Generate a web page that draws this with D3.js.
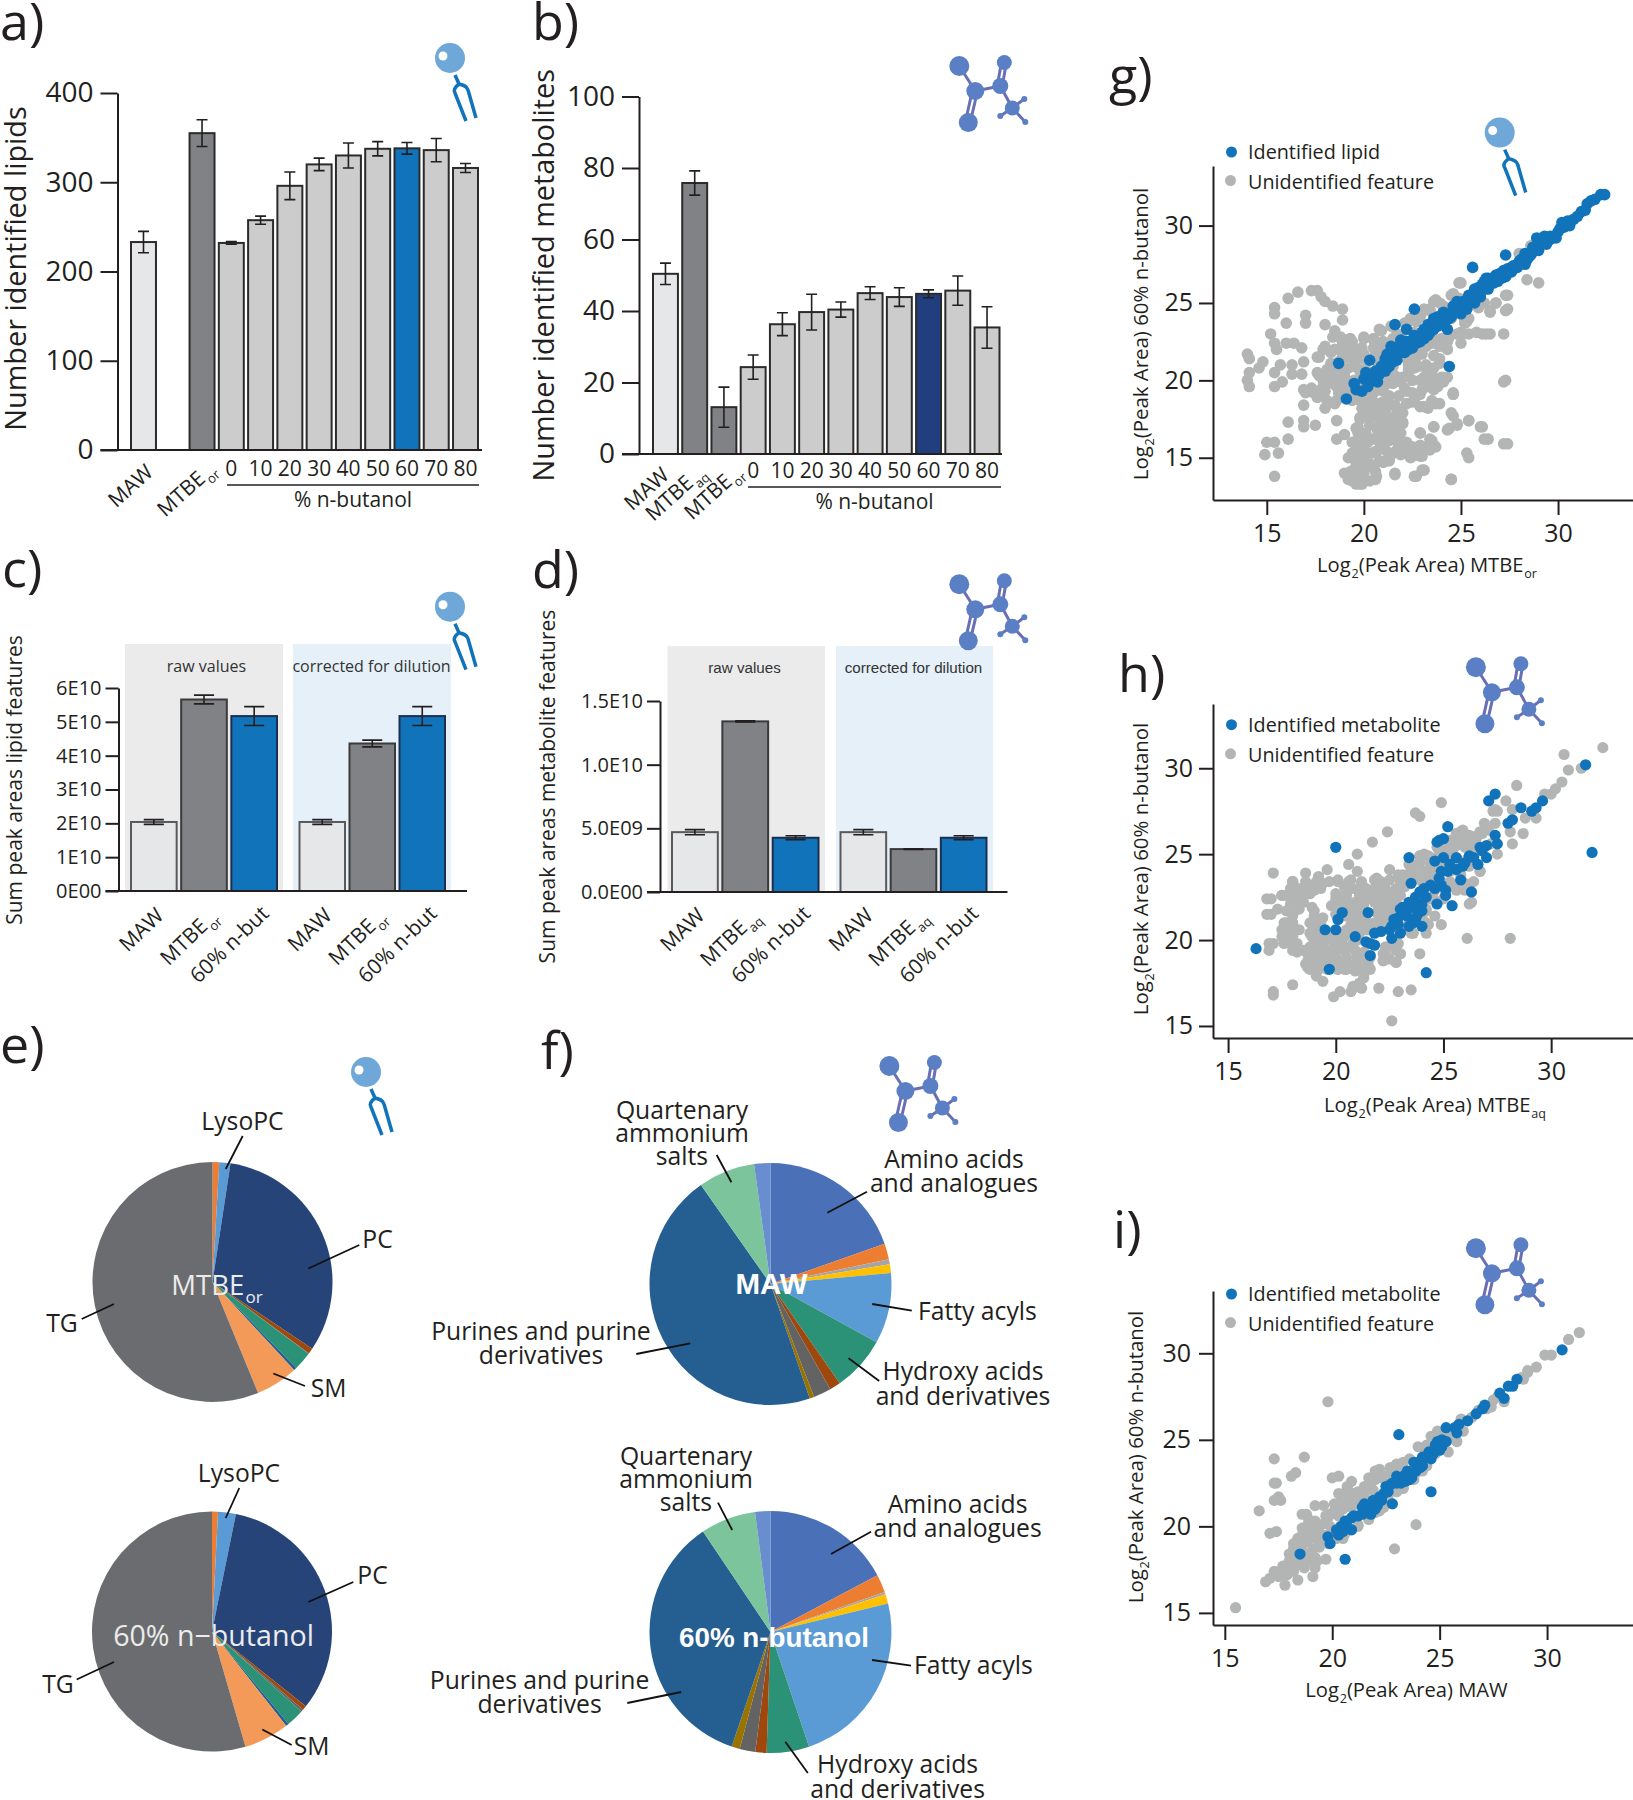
<!DOCTYPE html>
<html>
<head>
<meta charset="utf-8">
<script src="https://cdn.jsdelivr.net/npm/d3@7"></script>
<style>
  html, body { margin: 0; padding: 0; background: #fff; }
  text { font-family: 'Open Sans', sans-serif; fill: #231f20; }
</style>
</head>
<body>
<script>
// ---- panel a / b : identified counts ----
const lipidIds = ['MAW', 'gap', 'MTBE_{or}', '0', '10', '20', '30', '40', '50', '60', '70', '80'];
const lipidCounts = [233, null, 355, 232, 257.5, 296, 320, 330, 337.5, 338, 336, 316];
const lipidErrors = [12, null, 15, 1.5, 4.5, 15.5, 7, 14, 8, 6.5, 13, 5];
const metaboliteIds = ['MAW', 'MTBE_{aq}', 'MTBE_{or}', '0', '10', '20', '30', '40', '50', '60', '70', '80'];
const metaboliteCounts = [50.4, 75.8, 13.1, 24.3, 36.3, 39.7, 40.4, 45, 43.9, 44.8, 45.7, 35.4];
const metaboliteErrors = [3, 3.4, 5.6, 3.4, 3.2, 5, 2.1, 1.8, 2.6, 1.1, 4.1, 5.8];

// ---- panel c / d : summed peak areas ----
const lipidAreaIds = ['MAW', 'MTBE_{or}', '60% n-but'];
const lipidAreaRaw = [2.04e10, 5.66e10, 5.17e10];
const lipidAreaRawErr = [0.07e10, 0.13e10, 0.28e10];
const lipidAreaCorrected = [2.04e10, 4.36e10, 5.17e10];
const lipidAreaCorrectedErr = [0.07e10, 0.1e10, 0.28e10];
const metaboliteAreaIds = ['MAW', 'MTBE_{aq}', '60% n-but'];
const metaboliteAreaRaw = [4.7e9, 1.34e10, 4.26e9];
const metaboliteAreaRawErr = [2e8, 4e7, 1.6e8];
const metaboliteAreaCorrected = [4.7e9, 3.37e9, 4.26e9];
const metaboliteAreaCorrectedErr = [2e8, 2e7, 1.6e8];

// ---- panel e / f : class composition, clockwise from 12 o'clock ----
const lipidSliceColors = ['#ed7d31', '#5b9bd5', '#264478', '#9e480e', '#636363', '#2b9278', '#255e91', '#f39a59', '#6b6c70'];
const lipidShareMtbe = [0.9, 1.5, 32, 0.75, 0.05, 2.5, 0.4, 5.7, 56.2];
const lipidShareButanol = [0.8, 2.4, 32.5, 0.6, 0.3, 2.4, 0.4, 6.1, 54.5];
const metaboliteSliceColors = ['#4a71b8', '#ed7d31', '#a5a5a5', '#ffc000', '#5b9bd5', '#2b9278', '#9e480e', '#636363', '#997300', '#255e91', '#7cc49b', '#698ed0'];
const metaboliteShareMaw = [19.6, 2.11, 0.67, 1.17, 9.44, 7.31, 1.47, 2.36, 0.61, 45.5, 7.58, 2.17];
const metaboliteShareButanol = [17.3, 2.4, 0.33, 1.25, 23.7, 5.7, 1.5, 2.1, 1.1, 35.5, 7.4, 2.05];

// ---- panel g : 60% n-butanol vs MTBE organic ----
const gIdentified = [[18.7, 21.1], [19.1, 18.8], [20.3, 21.3], [21.6, 23.6], [22.6, 24.6], [25.6, 27.3], [24.4, 20.9], [27.3, 28.1], [22.2, 23.3], [24.3, 23.3],
  [19.5, 19.8], [19.6, 19.4], [19.9, 19.3], [20, 20.1], [20.2, 20.2], [20.5, 20.1], [20.7, 19.9], [20.6, 20.6], [20.9, 20.9], [21.2, 20.8], [21.1, 21.4], [21.5, 21.2], [21.7, 21.6], [21.6, 22], [21.9, 21.8], [22, 22.2], [22.3, 22], [22.4, 22.5], [22.7, 22.4], [22.8, 22.8], [23.1, 22.7], [23.1, 23.3], [23.4, 23.1], [23.5, 23.6], [23.8, 23.5], [23.8, 24.1], [24.1, 23.9], [24.3, 24.3], [24.5, 24.1], [24.7, 24.5], [25, 24.3], [25, 24.8], [24.8, 25.1], [25.3, 24.9], [25.5, 25.2], [25.7, 25], [25.8, 25.6], [26, 25.4], [25.9, 26], [26.2, 25.9], [26.2, 26.4], [26.5, 26.2], [26.6, 26.6], [26.9, 26.4], [27, 26.9], [27.3, 26.7], [27.4, 27.2], [27.6, 27], [27.7, 27.4], [28, 27.7], [28.2, 27.9], [28.3, 27.5], [28.5, 28], [28.7, 28.3], [28.9, 28.6], [28.9, 29.2], [29.2, 28.9], [29.3, 29.3], [29.6, 29.1], [29.8, 29.3], [30, 29.6], [30.3, 29.9], [30.2, 30.2], [30.5, 30.3], [30.8, 30.4], [31, 30.6], [31.2, 30.9], [31.4, 31], [31.5, 31.4], [31.7, 31.6], [31.9, 31.7], [32.2, 32], [32.4, 32],
  [20.1, 20.5], [20.3, 19.9], [20.8, 20.4], [21, 21], [21.3, 20.9], [21.4, 21.7], [21.7, 21.3], [21.8, 22.2], [22.1, 21.8], [22.2, 22.5], [22.5, 22.1], [22.6, 22.9], [22.9, 22.5], [23, 23.1], [23.3, 22.9], [23.3, 23.6], [23.6, 23.3], [23.6, 24], [24, 23.7], [24.1, 24.4], [24.4, 24], [24.6, 24.8], [24.8, 24.4], [25.1, 25.1], [25.3, 24.6], [25.4, 25.5], [25.6, 25.3], [25.7, 25.9], [26, 25.7], [26.1, 26.2], [26.4, 25.9], [26.4, 26.6], [26.7, 26.3], [26.8, 26.8], [27.1, 26.6], [27.2, 27.1], [27.5, 27], [27.6, 27.3], [27.9, 27.3], [28.1, 27.8], [28.4, 27.8], [28.3, 28.2], [28.6, 28.1], [28.7, 28.6], [29, 28.4], [29.1, 29], [29.4, 28.8], [29.6, 29.3], [29.9, 29.2], [30.1, 29.8], [30.4, 30.1], [30.6, 30],
  [21.4, 22.2], [21.2, 21.7], [21.9, 22.6], [21.1, 20.6], [20.2, 19.6], [26.3, 26.6], [25.9, 25.4]];
const gUnidentified = [[16.6, 25.7], [16.1, 25.3], [15.4, 24.7], [15.4, 24.3], [16, 23.7], [17.3, 25.8], [17.6, 25.8], [17.8, 25.4], [18, 25.1], [18.4, 24.8], [18.9, 24.6], [17, 24.2], [17, 23.7], [18, 23.6], [18.9, 23.9], [18.5, 23.2], [18.8, 22.8], [19.1, 22.6], [15.2, 23], [15.4, 22.4], [15.5, 22], [16, 22.4], [16.4, 22.4], [16.8, 22.1],
  [14, 21.7], [14.1, 21.4], [14.8, 21.2], [14.6, 20.8], [14.1, 20.5], [14, 20], [14.1, 19.6], [15.4, 20.5], [15.7, 21], [16.3, 21], [16.9, 21.2], [17.6, 21.5], [18, 22.2], [18.3, 21.8], [15.4, 19.6], [15.8, 19.9], [16.3, 20.4], [16.8, 20.4], [16.9, 19.4], [16.9, 18.4], [17.6, 18.9], [18, 18.2],
  [17.6, 20.5], [17.9, 20.2], [18.2, 20.6], [18.5, 21], [18.3, 20], [18.7, 19.7], [19, 20.3], [19.2, 20.8], [19.5, 21.3], [18.9, 21.5], [19.3, 22], [19.7, 21.8], [20, 21.4], [19.8, 20.6], [19.5, 20], [19.2, 19.4], [18.7, 19.2], [17.3, 19.5], [17.6, 19.3], [18.1, 18.7], [18.5, 18.5], [19.4, 18.7], [19.9, 18.2], [20.2, 18.8], [20, 19.5], [20.4, 19.3],
  [16.1, 17.3], [16.9, 17.4], [16.9, 17], [17.5, 17.1], [18.6, 17.4], [19, 16.5], [18.6, 16.2], [15, 16], [15.4, 16], [16.1, 16.2], [15.6, 15.3], [14.9, 15.2], [15.4, 13.8],
  [19.3, 14.1], [19.6, 13.3], [19.9, 13.3], [20.3, 13.5], [20.6, 13.6], [19.2, 13.6], [19.5, 13.8], [19.7, 14.4], [20.1, 14.5], [19.6, 14.9], [20, 15.1], [20.4, 15.3], [20.8, 14.8], [21.1, 14.8], [21.6, 13.9], [22.7, 13.8], [23.1, 14.2], [22.4, 15], [23, 15.1], [22.7, 15.4], [22.3, 15.3], [21.8, 15.8], [21.5, 15.3], [21.1, 15.5], [20.8, 16], [20.4, 16.2], [20.1, 16.4], [19.7, 16.6], [19.5, 16], [20.3, 17.1], [20.7, 16.8], [21, 16.9], [21.5, 17.1], [21.8, 16.4], [22.2, 16], [22.9, 15.8], [22.9, 16.6], [21.7, 17.8], [21.1, 18], [21.3, 18.4], [20.7, 18.4], [22, 17.3], [21.7, 18.2], [20.4, 17.8], [19.8, 17.5], [19.6, 16.9], [19.9, 15.8], [20.3, 14.6], [20.6, 14.1], [21.1, 16.4], [21.5, 16.2], [20, 15.6], [20.6, 15.4], [21.3, 14.9], [21.9, 15.2], [20.2, 16], [19.7, 15.6], [19.4, 15.3], [19.2, 15], [23.2, 15.7], [23.4, 15.5], [20.9, 17.4], [20.1, 18], [21.3, 17.5], [21.4, 16.7],
  [22.2, 19.3], [22.6, 18.8], [22.9, 18.3], [23.3, 18.2], [23.7, 18.5], [23.5, 18.7], [23.9, 18.5], [22.9, 19.1], [23.3, 19.6], [23.8, 19.6], [24.6, 19.1], [23.1, 20.2], [23.5, 20.4], [24, 20.2], [23.9, 21.1], [23.2, 21], [22.6, 20.8], [22.3, 20.5], [21.9, 19.9], [21.6, 20.3], [21.2, 19.8], [20.7, 19.4], [20.4, 18.8], [19.8, 18.7], [19.2, 19], [18.6, 18.7], [18, 19.3],
  [20, 22.8], [20.5, 22.7], [20.9, 23.2], [21.4, 23.5], [22.4, 24], [23.1, 24.6], [23.7, 25.2], [24.5, 25.5], [25, 26.3], [26, 24.9], [25.4, 24], [25.3, 23.8], [25, 22.9], [24, 22.7], [24.3, 22.5], [23.3, 22.3], [22.8, 21.9], [22.3, 21.6], [21.7, 21.8], [21.2, 22.3], [19.3, 22.7], [19.4, 22.5], [18.9, 22], [19.4, 22], [19.9, 21.5], [18.7, 21.2], [18.4, 20.7], [17.8, 20.3], [18, 19.9], [18.7, 20.1], [19.2, 19.9], [19.8, 20.7], [20, 21.7], [20.5, 22.1], [21, 22.5], [18.9, 21.8], [18.5, 22], [18.9, 22.5],
  [26.1, 23], [26.5, 23], [27.2, 23], [26.5, 24.5], [26.8, 25], [27.4, 24.6], [27.4, 25.5], [28.4, 26.5], [29, 26.3], [27.3, 20], [24.6, 19.1], [24.6, 17.7], [24.8, 17.1], [24.4, 16.9], [25.4, 17.4], [26.1, 17], [26.4, 16.2], [27.4, 15.9], [25.4, 15], [24.5, 13.6], [23.6, 15.8], [23.4, 16.2], [23.6, 17], [24.5, 24], [25.3, 24.7], [26.2, 25], [28, 28.2], [28.6, 28.7], [23.4, 24.6], [24.1, 24.8], [24.9, 25.3], [22.6, 23.1], [22.1, 23.7], [21.5, 22.7], [21.9, 22.9], [22.7, 23.8], [23.5, 22.8], [22.3, 21], [21, 21], [20.8, 20.5], [20.3, 20.3], [21.5, 20.9],
  [19.8, 13.8], [19.45, 14.2], [20.1, 14.4], [19.6, 14.7], [20.65, 13.8], [21, 14.7], [20, 15.3], [20.65, 15.4], [21.3, 15.3], [19.4, 16], [20, 16.1], [20.65, 16.2], [21.3, 16.1], [22, 15.9], [22.5, 15.7], [22.9, 15.1], [22.4, 15.2], [19.7, 17], [20.3, 17.5], [20.8, 17.1], [21.5, 17], [22, 17.2], [20.1, 17.9], [20.65, 18.1], [21.2, 17.6], [21.7, 17.9], [21.6, 18.4], [21, 18.6], [22.2, 18.5], [22.5, 19.2], [23.1, 18.3], [22.1, 19.5], [23, 19.4], [23.6, 19.4], [23.7, 20], [23.2, 20.2], [24.1, 19.9], [22.5, 20], [22, 20.2], [21.5, 19.8], [21, 19.3], [20.5, 19.2], [20, 18.8], [19.5, 18.9],
  [18.9, 20], [18.4, 19.8], [17.9, 19.6], [17.4, 19.2], [17, 19.2], [17.7, 20.3], [18.3, 20.4], [18.9, 20.7], [19.5, 20.9], [19.8, 21.7], [19.4, 22.2], [18.9, 22.5], [18.4, 22.8], [17.9, 22], [17.7, 21.5], [18.3, 21.1], [19.1, 21.5], [20.7, 21.2], [20.1, 20.7], [20, 22.7], [20.5, 22.6], [20.8, 23.3], [20.8, 22.3], [21.5, 22.6], [22.5, 23.9], [23, 24.4], [23.6, 25.1], [24.1, 24.5], [24.9, 26.3], [25, 23.1], [25.2, 23.7], [25.4, 23], [25.8, 23.1], [26.3, 23], [25.9, 24.7], [26.5, 24.4], [26.8, 25], [27.3, 24.5], [27.3, 25.5], [25, 22.4], [23.9, 22.2], [24.3, 22], [23.9, 21.4], [23, 21.7], [23.2, 20.8], [23.6, 20.8], [24.3, 20.2], [24.6, 19.2], [27.2, 19.9], [24.5, 17.9], [24.8, 17.2], [24.3, 16.8], [23.6, 17], [25.4, 17.4], [26, 17], [26.2, 16.2], [27.2, 15.9], [25.3, 15.3], [24.5, 13.6], [21.6, 14], [22.6, 13.8], [23, 14.2], [22.9, 16.6], [23.5, 16.1], [23.7, 15.7],
  [17.9, 20], [18.6, 19.6], [19.1, 19.4], [18.1, 20.7], [18.6, 20.9], [20, 19.8], [20.1, 19.4], [19.6, 21.3], [19.9, 22.1], [19.5, 21.6], [20.6, 21.7], [21, 22], [21.3, 20.9], [21, 20.2], [21.5, 20.2], [22.3, 20.7], [22.8, 20.9], [22.7, 21.5], [22.2, 21.4], [23.2, 22.2], [23.6, 21.6], [22.9, 20], [21.8, 19], [22.5, 18.6], [21.3, 19], [20.8, 18.5], [20.3, 18.3], [19.8, 17.6], [20.8, 17.6], [21.6, 17.4], [22, 17.9], [20.1, 16.6], [21.3, 16.6], [21.9, 16.6], [21, 15.7], [19.6, 15.5], [21.7, 15.5], [22.2, 15.5], [20.5, 14.4], [20, 14], [19.4, 13.5], [19.8, 13.3], [19, 14], [21.3, 14.8], [22.5, 15.1], [21.7, 23], [22.2, 23.7], [22.9, 24.1], [23.4, 24.5], [23.9, 25], [24.6, 25.6], [25.2, 23.9], [24.8, 23], [24.4, 22.8], [23.6, 22.4]];

// ---- panel h : 60% n-butanol vs MTBE aqueous ----
const hIdentified = [[16.3, 19.5], [20, 25.4], [19.7, 18.3], [24.2, 18.1], [23.4, 24.8], [25.2, 26.6], [31.9, 25.1], [31.6, 30.2], [27.4, 28.5], [27.1, 28.1], [28.6, 27.7], [29.6, 28.1], [29.3, 27.7], [29.1, 27.5], [28.2, 27], [28, 26.8], [27.4, 26.1], [27.5, 25.6], [27, 25.5], [26.7, 25.4], [27, 24.8], [26.4, 24.8], [26, 24.5], [25.6, 24.8], [25, 24.8], [24.6, 24.6], [24.8, 25.8], [24.7, 25.7], [25, 25.9], [26.6, 24.4], [25.6, 24.1], [25.2, 24], [24.8, 23.6], [25.8, 23.5], [26.3, 22.8], [24.6, 23], [25.1, 22.9], [25.1, 22.6], [24.7, 22.1], [25.4, 22], [24.1, 23], [24.2, 22.5], [23.5, 23.3], [23.7, 22.5], [23.4, 22.2], [23.7, 22], [23.3, 21.8], [23, 21.8], [23.8, 21.5], [23.3, 21.4], [22.9, 21.3], [22.7, 21.2], [24, 20.8], [22.6, 20.8], [23, 20.4], [22.5, 20.6], [22.6, 20.1], [22.1, 20.5], [21.8, 20.4], [21.5, 21.6], [20.9, 20.2], [21.4, 19.9], [21.6, 19.8], [21.8, 19.7], [21.6, 19.1], [19.5, 20.6], [20, 20.6], [20.1, 21.2], [20.3, 21.6], [23.1, 21.9], [23.5, 21.9], [24, 21.7], [22.9, 20.9], [23.7, 21.2],
  [24.9, 24], [25.3, 24.4], [25.9, 24.3], [24.9, 23.2], [24.4, 23.2], [24, 22.1], [23.6, 21], [23.4, 20.8], [23.9, 22.8], [26.2, 24.9], [26.8, 25.2]];
const hUnidentified = [[32.4, 31.2], [30.6, 30.8], [30.8, 29.9], [31.4, 30], [30.5, 29.2], [30.2, 28.8], [30, 28.5], [29.7, 28.5], [28.4, 29], [27.9, 28.1], [24.9, 28], [23.7, 27.4], [23.9, 27.2], [22.4, 26.3], [21.7, 25.7], [21, 25], [20.6, 24.4], [19.6, 24.1], [21, 24], [22.5, 24.1], [19.2, 23.7], [18.6, 23.9], [17.1, 23.9], [18, 23.4], [17.5, 22.6], [16.8, 22.4], [17, 22.4], [17.3, 21.8], [17, 21.5], [16.8, 21.5], [16.9, 19.8], [17.1, 19.8], [16.9, 19.4], [18, 17.4], [19.1, 17.9], [19.4, 17.6], [17.1, 17], [17.1, 16.8], [19.9, 16.7], [20.2, 17], [20.7, 17], [20.8, 17.3], [21.2, 17.2], [21.3, 17.8], [21.6, 18.3], [22, 17.2], [22.9, 17], [23.5, 17.1], [22.6, 15.3], [23.9, 19.2], [22.2, 18.8], [22.8, 18.7], [23, 19.2], [24.9, 20.9], [26.1, 20.1], [28.1, 20.1], [26.3, 22.2], [26.7, 24], [28.2, 25.6], [28.7, 26.2], [28.1, 26.3], [27.5, 25], [28.8, 27.1], [29.3, 27.1], [28.2, 27.6], [27.4, 27.6], [27.5, 27.5], [27.3, 27.5], [26.9, 26.8], [27.4, 26.8], [25.8, 26.3], [25.9, 26.3],
  [18, 23.4], [18.6, 23.4], [19.1, 23.4], [19.7, 23.4], [20.1, 23.4], [20.6, 23.4], [21.2, 23.4], [21.8, 23.5], [22.1, 23.4], [17.9, 23], [18.3, 23], [18.8, 23], [19.3, 23], [20.4, 23.1], [20.8, 23], [21.4, 23], [21.9, 23], [22.3, 23], [22.8, 23], [23.2, 23.1], [23.6, 23.7], [17.5, 22.6], [18, 22.6], [18.4, 22.7], [18.8, 22.7], [20.5, 22.6], [21.1, 22.6], [21.6, 22.6], [22, 22.6], [22.5, 22.6], [23, 22.6], [18.1, 22.2], [18.5, 22.2], [19, 22.9], [20.4, 22.2], [20.9, 22.2], [21.3, 22.2], [21.8, 22.2], [22.3, 22.2], [22.8, 22.2], [18.3, 21.8], [18.9, 21.9], [20, 22.4], [19.8, 22], [20.6, 21.9], [21, 21.8], [21.4, 21.2], [22, 21.8], [22.6, 21.8], [18, 21.4], [19, 21.4], [19.4, 21.3], [20.6, 21.4], [21.1, 21.4], [22.2, 21.4], [22.7, 21.6], [17.6, 21], [18, 21], [18.9, 21], [19.3, 21], [20.8, 21], [21.3, 21], [21.8, 21], [22.3, 21], [17.5, 20.6], [17.9, 20.6], [18.3, 20.6], [19, 20.6], [20.5, 20.6], [21, 20.6], [21.5, 20.6], [17.5, 20.2], [17.9, 20.2], [18.9, 20.2], [19.3, 20.2], [19.7, 20.2], [20.3, 20.2], [21.2, 20.7], [17.6, 19.8], [18, 19.8], [19, 19.8], [19.4, 19.8], [19.9, 19.8], [20.3, 19.8], [20.8, 19.8], [22.3, 19.6], [22.9, 19.8], [18, 19.4], [18.2, 19.3], [19.1, 19.4], [19.5, 19.4], [19.9, 19.4], [20.4, 19.4], [20.9, 19.4], [21.3, 19.3], [22.3, 19.2], [22.8, 19.4], [18.8, 19], [19.2, 19], [19.6, 19], [20, 19], [20.5, 19], [21, 19], [21.4, 19], [22.5, 18.9], [18.6, 18.6], [19, 18.6], [19.4, 18.6], [19.8, 18.6], [20.2, 18.6], [20.6, 18.6], [21, 18.6], [21.5, 18.6], [18.8, 18.3], [19.2, 18.3], [19.6, 18.3], [20.1, 18.3], [20.5, 18.3], [20.9, 18.2], [21.3, 18.2],
  [23.4, 24.4], [23.8, 24.4], [24.4, 24.4], [24.9, 24.3], [23.9, 24.9], [24.3, 24.9], [24.8, 25], [25.3, 25.1], [24.7, 25.4], [25.1, 25.4], [25.5, 25.4], [26, 25.4], [25.3, 25.8], [25.7, 25.8], [26.1, 25.8], [26.5, 25.8], [25.6, 26.2], [26.2, 26.1], [26.6, 26.1], [22.9, 23.8], [23.3, 23.8], [23.7, 23.8], [24.2, 23.8], [24.7, 23.8], [25.3, 23.4], [25.8, 23.8], [23, 23.4], [23.4, 23.4], [24, 23.4], [24.5, 23.4], [25, 23.3], [25.5, 23.2], [26, 23.3], [26.4, 23.4], [24.6, 22.9], [25, 22.4], [25.6, 22.9], [26, 22.9], [24.4, 22.4], [24.2, 21.8], [24.6, 21.4], [24.3, 20.9], [24, 21.3], [23.4, 21], [23.1, 20.6], [23.6, 20.4], [22.7, 19.8], [24.2, 20.4], [26.6, 25.2], [27.2, 25.6], [26.7, 26.3], [27.1, 26.4],
  [18, 23.4], [18.7, 23.2], [19.4, 23.3], [20.1, 23.5], [20.7, 23.5], [21.2, 23.3], [21.9, 23.6], [22.5, 23.5], [23.1, 23.8], [18, 22.7], [18.5, 22.8], [20, 22.7], [20.5, 22.8], [21.1, 22.7], [21.8, 22.9], [22.4, 22.8], [23, 23], [23.5, 24], [23.9, 24.5], [24.4, 24.8], [24.1, 24], [24.5, 24], [17.9, 22.1], [18.3, 22.1], [20.1, 22.1], [20.7, 22.1], [21.3, 22.1], [21.9, 22.3], [22.5, 22.3], [18, 21.5], [19, 21.7], [20, 21.5], [20.6, 21.5], [21.1, 21.4], [21.9, 21.6], [22.4, 21.7], [17.7, 21], [18, 20.9], [19, 21], [20.7, 20.9], [21.1, 20.9], [21.9, 21], [17.6, 20.3], [18, 20.2], [18.8, 20.4], [19.3, 20], [19.9, 20], [20.4, 20.2], [21.1, 20.4], [17.9, 19.8], [18.5, 19.4], [18.8, 19.6], [19.6, 19.4], [20.2, 19.5], [20.7, 19.6], [21.1, 19.2], [18.1, 19.4], [18.7, 18.8], [19.1, 19], [19.7, 18.9], [20.4, 18.8], [21, 18.8], [18.7, 18.4], [19.4, 18.5], [20.4, 18.3], [20.9, 18.3], [21.4, 18.4], [21.3, 18], [21.1, 17.5], [20.8, 17.2], [22.2, 18.8], [22.8, 18.7], [23, 19.2], [22.7, 19.6], [22.2, 19.2], [24.2, 21], [23.5, 20.4], [24.2, 21.7], [24.5, 22.5], [25.2, 24.9], [25.8, 26.2], [26, 25.8], [26.4, 26], [26.8, 26.2], [25.6, 25.5], [26.4, 25.4], [26.7, 24], [25.8, 24.3], [26.2, 24.3], [26.2, 23.2], [26.2, 22.1], [23.9, 24.9],
  [17.65, 22.6], [18.2, 22.9], [17.7, 21.7], [17.6, 20.6], [17.8, 20.4], [18.2, 19.8], [18.7, 19.2], [19.1, 19.4], [19.1, 18.6], [19.8, 18.8], [20.7, 18.4], [20.2, 22.3], [20.4, 21.4], [20.9, 21.5], [21.4, 22.5], [21.8, 23], [23, 23.5], [22.4, 21.4], [22.1, 20.8], [21.4, 20.6], [20.5, 20.5], [19.8, 20.4], [18.8, 21], [21, 20], [20.4, 19.6], [19.4, 19.4], [20.1, 18.3], [21.6, 19], [24.1, 25], [24.4, 24.5], [25.3, 24], [26.1, 24.7], [26.7, 25.2], [25.6, 26.2], [25.9, 26.4]];

// ---- panel i : 60% n-butanol vs MAW ----
const iIdentified = [[30.7, 30.2], [28.6, 28.5], [28.4, 28.1], [28.2, 28.1], [28, 27.4], [27.8, 27.7], [27.1, 27], [27, 26.8], [26.7, 26.5], [26.3, 26.1], [25.9, 25.9], [25.7, 25.7], [25.3, 25.7], [25.8, 25.4], [25.3, 24.9], [25.1, 25], [24.8, 24.7], [25, 24.4], [24.6, 23.9], [24.2, 24], [24, 23.7], [23.8, 23.7], [24.1, 23.4], [23.7, 22.8], [23.5, 23.2], [23.3, 22.9], [23, 22.9], [23.4, 22.6], [23, 22.5], [22.7, 22.4], [22.5, 22.3], [22.4, 21.9], [22.2, 21.7], [21.9, 21.5], [22.1, 21.2], [21.7, 21.2], [21.4, 21.1], [21.8, 20.7], [21.2, 20.6], [20.9, 20.5], [20.6, 20.3], [20.9, 19.8], [20.4, 20], [20.5, 19.7], [20.3, 19.5], [19.8, 19.4], [19.9, 19], [18.5, 18.4], [20.6, 18.1], [22.8, 21.3], [23.1, 25.3], [24.6, 22],
  [20.2, 19.8], [20.7, 20], [21, 20.6], [21.4, 20.7], [21.5, 21.3], [22, 21], [22.3, 21.5], [22.6, 22], [22.8, 22.5], [23.2, 22.5], [23.6, 22.7], [23.9, 23.2], [24.2, 23.5], [24.4, 24], [24.5, 24.3], [24.7, 24.2], [24.9, 24.9], [25.1, 24.6]];
const iUnidentified = [[15.5, 15.3], [16.6, 20.9], [17.3, 23.9], [18.7, 24], [19.8, 27.2], [18.3, 23.1], [18.1, 22.9], [17.4, 22.5], [17.3, 22.5], [17.5, 21.7], [17.3, 21.5], [17.6, 21.5], [17.1, 19.6], [17.4, 19.7], [18.6, 20.7], [18.8, 20.7], [19.2, 21.2], [19.6, 21.2], [20, 22.8], [20.3, 22.9], [20.7, 22.2], [20.9, 22.6], [20.7, 21.9], [23.9, 20.1], [22.9, 18.7], [19.1, 17.1], [16.9, 16.8], [17.3, 17.4], [17.8, 16.6], [18.4, 16.9], [31.5, 31.2], [31, 30.8], [30.2, 29.9], [29.9, 29.9], [29.5, 29.2], [29.1, 28.9], [28.9, 28.5],
  [17.1, 17], [17.5, 17.1], [17.9, 17.2], [18.2, 17.4], [17.7, 17.7], [18, 18], [18.4, 17.8], [18.7, 17.6], [18.3, 18.3], [18.6, 18.6], [18.9, 18], [18.2, 18.7], [18.5, 19], [18.8, 19.1], [19.1, 18.7], [18.4, 19.3], [18.8, 19.6], [19.2, 19.3], [19.4, 18.8], [18.6, 19.9], [19, 20.1], [19.3, 19.8], [19.6, 19.5], [18.9, 20.4], [19.5, 20.1], [19.8, 20.5], [20.1, 20.9], [20.3, 20.6], [20.6, 21.3], [20.9, 21.1], [20.8, 21.6], [21.2, 21.5], [21.6, 21.4], [21.9, 22.1], [22, 22.7], [22.2, 23.3], [21.7, 22.8], [22, 23.2], [22.5, 22.9], [22.7, 23.4], [23, 23.6], [23.3, 23.7], [23.6, 23.9], [22.8, 23.2], [23.3, 22.2], [23, 22], [22.6, 21.6], [22.2, 20.9], [21.7, 20.4], [21.2, 20.1], [20.6, 19.6], [19.9, 20], [20.2, 19.3], [24, 24.6], [24.4, 24.7], [24.6, 25.2], [24.9, 25.5], [25.4, 24.3], [25.8, 24.9], [26.1, 25.5], [26, 26.2], [26.5, 26.3], [26.8, 26.7], [27.2, 26.8], [27.5, 27.3], [27.7, 27.5], [23.9, 23.1], [24.4, 23.5], [24.8, 24.2], [29.1, 29], [28.8, 28.6], [19.7, 18.1], [19.3, 18], [19.2, 17.6], [20, 19.6], [21, 21.9], [22.4, 21.1], [21.5, 21.9], [20.4, 21.4], [20.1, 21.3],
  [17.7, 17.2], [18.1, 17.7], [18.5, 18], [18, 18.4], [18.4, 18.7], [18.7, 18.3], [19, 18.4], [19.2, 18.2], [18.2, 19], [18.6, 19.5], [19, 19.5], [18.8, 20], [19.2, 20.3], [19.5, 19.2], [19.7, 20.6], [19.9, 19.3], [19.8, 19], [20.5, 21], [20.9, 21.5], [21.2, 21.9], [21.5, 22.3], [21.8, 22.5], [20.5, 19.3], [21.2, 20], [22, 20.8], [22.3, 22.8], [22.6, 21.4], [23.3, 22.2], [23.8, 22.7], [24.2, 23.2], [23.2, 23.5], [24.3, 24.4], [25.4, 25], [25.3, 25.3], [27.4, 26.9], [28, 27.2], [20.3, 21.9], [20.7, 22.3], [21.2, 22], [20.9, 21.9], [19.9, 20.7]];

const svg = d3.select('body').append('svg')
  .attr('width', 1633)
  .attr('height', 1800);

// Text helper: "MTBE_{or}" puts the braces part in a subscript tspan.
function label(parent, content, x, y, size, extra = {}) {
  const node = parent.append('text')
    .attr('x', x)
    .attr('y', y)
    .attr('font-size', size)
    .attr('text-anchor', extra.anchor || 'start');
  if (extra.rotate !== undefined) {
    node.attr('transform', `rotate(${extra.rotate},${x},${y})`);
  }
  if (extra.fill) node.style('fill', extra.fill);
  if (extra.family) node.style('font-family', extra.family);
  if (extra.weight) node.attr('font-weight', extra.weight);
  let shift = 0;
  content.split(/_\{(.*?)\}/).forEach((part, idx) => {
    if (!part) return;
    const isSub = idx % 2 === 1;
    const down = isSub ? size * 0.3 : 0;
    node.append('tspan')
      .attr('dy', down - shift)
      .attr('dx', isSub ? size * 0.04 : 0)
      .attr('font-size', isSub ? size * 0.62 : size)
      .text(part);
    shift = down;
  });
  return node;
}

function leader(parent, from, to) {
  parent.append('line')
    .attr('x1', from[0]).attr('y1', from[1])
    .attr('x2', to[0]).attr('y2', to[1])
    .attr('stroke', '#111')
    .attr('stroke-width', 1.8);
}

function styleAxis(sel, size) {
  sel.selectAll('path, line').attr('stroke', '#231f20').attr('stroke-width', 2);
  sel.selectAll('text').attr('font-size', size).style('font-family', "'Open Sans', sans-serif").attr('fill', '#231f20');
}

function lipidIcon(cx, cy) {
  const g = svg.append('g').attr('transform', `translate(${cx},${cy})`);
  g.append('path')
    .attr('d', 'M5,17 L9,26 C5,29 3,32 5,35 L16,63 M9,26 C13,27 17,28 18,32 L26,60')
    .attr('fill', 'none')
    .attr('stroke', '#1174bb')
    .attr('stroke-width', 3.5);
  g.append('circle').attr('r', 15).attr('fill', '#6fa8d8');
  g.append('circle').attr('cx', -7).attr('cy', -2).attr('r', 4.5).attr('fill', '#fff');
}

function moleculeIcon(cx, cy) {
  const g = svg.append('g').attr('transform', `translate(${cx},${cy})`);
  const bonds = [[0, 0, 16, 25], [16, 25, 41, 20], [13, 25, 6, 56], [18, 26, 11, 56], [38, 20, 42, -3], [43, 20, 47, -3], [41, 20, 53, 42], [53, 42, 65, 33], [53, 42, 66, 56], [53, 42, 41, 50]];
  g.selectAll('line').data(bonds).join('line')
    .attr('x1', d => d[0]).attr('y1', d => d[1])
    .attr('x2', d => d[2]).attr('y2', d => d[3])
    .attr('stroke', '#6a6fb5')
    .attr('stroke-width', 3);
  const atoms = [[0, 0, 10], [16, 25, 9], [41, 20, 8], [45, -3.5, 7.5], [9, 56.5, 9.5], [53, 42, 7.5], [65, 33, 3], [66, 56, 3], [41, 50, 3]];
  g.selectAll('circle').data(atoms).join('circle')
    .attr('cx', d => d[0]).attr('cy', d => d[1]).attr('r', d => d[2])
    .attr('fill', '#5b7fc4');
}

function barSet(g, ids, values, errors, colors, x, y, strokes) {
  const rows = ids.map((id, i) => ({ id, value: values[i], err: errors[i], fill: colors[i], stroke: strokes[i] }))
    .filter(d => d.value !== null);
  g.selectAll(null).data(rows).join('rect')
    .attr('x', d => x(d.id))
    .attr('width', x.bandwidth())
    .attr('y', d => y(d.value))
    .attr('height', d => y(0) - y(d.value))
    .attr('fill', d => d.fill)
    .attr('stroke', d => d.stroke)
    .attr('stroke-width', 2);
  const cap = 0.22 * x.bandwidth();
  const err = g.selectAll(null).data(rows).join('path')
    .attr('fill', 'none')
    .attr('stroke', '#231f20')
    .attr('stroke-width', 1.6);
  err.attr('d', (d) => {
    const cx = x(d.id) + (x.bandwidth() / 2);
    const hi = y(d.value + d.err);
    const lo = y(d.value - d.err);
    return `M${cx - cap},${hi}H${cx + cap}M${cx},${hi}V${lo}M${cx - cap},${lo}H${cx + cap}`;
  });
}

// ---- a) and b) ----
const lightBar = '#e6e7e8';
const darkBar = '#808285';
const midBar = '#cccccc';
const blueBar = '#1174bb';
const navyBar = '#213f7f';
const darkStroke = '#2b2b2b';

function countPanel(cfg) {
  const g = svg.append('g');
  const y = d3.scaleLinear().domain([0, cfg.max]).range([cfg.y0, cfg.yTop]);
  const x = d3.scaleBand().domain(cfg.ids).range(cfg.xRange).paddingInner(0.147).paddingOuter(0);
  barSet(g, cfg.ids, cfg.values, cfg.errors, cfg.colors, x, y, cfg.ids.map(() => darkStroke));
  g.append('g')
    .attr('transform', `translate(${cfg.axisX},0)`)
    .call(d3.axisLeft(y).tickValues(cfg.ticks).tickSize(17).tickSizeOuter(0).tickPadding(7))
    .call(styleAxis, 28);
  g.append('line')
    .attr('x1', cfg.axisX - 17).attr('x2', cfg.xEnd)
    .attr('y1', cfg.y0).attr('y2', cfg.y0)
    .attr('stroke', '#231f20').attr('stroke-width', 2);
  label(g, cfg.title, cfg.titleX, (cfg.y0 + cfg.yTop) / 2 + cfg.titleDy, 28.8, { anchor: 'middle', rotate: -90 });
  cfg.ids.forEach((id) => {
    if (id === 'gap') return;
    const cx = x(id) + (x.bandwidth() / 2);
    if (/^\d+$/.test(id)) {
      label(g, id, cx, cfg.numberY, 21, { anchor: 'middle' });
    } else {
      const at = cfg.angled[id];
      label(g, id, cx + at[0], at[1], 21, { anchor: 'end', rotate: -42 });
    }
  });
  g.append('line')
    .attr('x1', cfg.ruleX[0]).attr('x2', cfg.ruleX[1])
    .attr('y1', cfg.numberY + 9).attr('y2', cfg.numberY + 9)
    .attr('stroke', '#58595b').attr('stroke-width', 2);
  label(g, '% n-butanol', (cfg.ruleX[0] + cfg.ruleX[1]) / 2, cfg.numberY + 31, 21, { anchor: 'middle' });
}

countPanel({
  ids: lipidIds,
  values: lipidCounts,
  errors: lipidErrors,
  colors: [lightBar, lightBar, darkBar, midBar, midBar, midBar, midBar, midBar, midBar, blueBar, midBar, midBar],
  max: 400,
  ticks: [0, 100, 200, 300, 400],
  y0: 450,
  yTop: 93,
  axisX: 117.5,
  xRange: [131, 478],
  xEnd: 482,
  title: 'Number identified lipids',
  titleX: 26,
  titleDy: -3,
  numberY: 476,
  ruleX: [227, 479],
  angled: { MAW: [11, 474], 'MTBE_{or}': [15, 471] },
});

countPanel({
  ids: metaboliteIds,
  values: metaboliteCounts,
  errors: metaboliteErrors,
  colors: [lightBar, darkBar, darkBar, midBar, midBar, midBar, midBar, midBar, midBar, navyBar, midBar, midBar],
  max: 100,
  ticks: [0, 20, 40, 60, 80, 100],
  y0: 454,
  yTop: 96.5,
  axisX: 639,
  xRange: [653, 999.5],
  xEnd: 1002,
  title: 'Number identified metabolites',
  titleX: 554,
  titleDy: 0,
  numberY: 478,
  ruleX: [748, 1001],
  angled: { MAW: [5, 477], 'MTBE_{aq}': [12, 474], 'MTBE_{or}': [20, 474] },
});

// ---- c) and d) ----
function areaPanel(cfg) {
  const g = svg.append('g');
  const y = d3.scaleLinear().domain([0, cfg.max]).range([cfg.y0, cfg.yTop]);
  g.append('rect').attr('x', cfg.bands[0][0]).attr('width', cfg.bands[0][1] - cfg.bands[0][0])
    .attr('y', cfg.bandTop).attr('height', cfg.y0 - cfg.bandTop).attr('fill', '#ebebec');
  g.append('rect').attr('x', cfg.bands[1][0]).attr('width', cfg.bands[1][1] - cfg.bands[1][0])
    .attr('y', cfg.bandTop).attr('height', cfg.y0 - cfg.bandTop).attr('fill', '#e6f0f8');
  const fills = [lightBar, darkBar, blueBar];
  const strokes = ['#58595b', '#3a3a3a', '#1c2f4f'];
  [[cfg.groups[0], cfg.raw, cfg.rawErr], [cfg.groups[1], cfg.corrected, cfg.correctedErr]].forEach(([range, vals, errs], k) => {
    const x = d3.scaleBand().domain(cfg.ids).range(range).paddingInner(0.09).paddingOuter(0);
    barSet(g, cfg.ids, vals, errs, fills, x, y, strokes);
    cfg.ids.forEach((id, i) => {
      label(g, id, x(id) + (x.bandwidth() / 2) + cfg.labelDx[i], cfg.labelY[i], 21, { anchor: 'end', rotate: -44 });
    });
    label(g, cfg.captions[k], cfg.captionX[k], cfg.captionY, cfg.captionSize, { anchor: 'middle', family: cfg.captionFamily, fill: '#333' });
  });
  g.append('g')
    .attr('transform', `translate(${cfg.axisX},0)`)
    .call(d3.axisLeft(y).tickValues(cfg.ticks).tickFormat((d, i) => cfg.tickLabels[i]).tickSize(13).tickSizeOuter(0).tickPadding(4))
    .call(styleAxis, 20);
  g.append('line')
    .attr('x1', cfg.axisX - 13).attr('x2', cfg.xEnd)
    .attr('y1', cfg.y0).attr('y2', cfg.y0)
    .attr('stroke', '#231f20').attr('stroke-width', 2);
  label(g, cfg.title, cfg.titleX, cfg.titleY, 21, { anchor: 'middle', rotate: -90 });
}

areaPanel({
  ids: lipidAreaIds,
  raw: lipidAreaRaw,
  rawErr: lipidAreaRawErr,
  corrected: lipidAreaCorrected,
  correctedErr: lipidAreaCorrectedErr,
  max: 6e10,
  ticks: [0, 1e10, 2e10, 3e10, 4e10, 5e10, 6e10],
  tickLabels: ['0E00', '1E10', '2E10', '3E10', '4E10', '5E10', '6E10'],
  y0: 891,
  yTop: 688,
  axisX: 118.5,
  xEnd: 467,
  bands: [[125, 283], [293, 451]],
  bandTop: 644,
  groups: [[131, 277], [299.5, 445]],
  captions: ['raw values', 'corrected for dilution'],
  captionX: [206.5, 371.5],
  captionY: 672,
  captionSize: 16,
  captionFamily: "'Open Sans', sans-serif",
  labelDx: [11, 15, 16],
  labelY: [917, 918, 915],
  title: 'Sum peak areas lipid features',
  titleX: 21.5,
  titleY: 780,
});

areaPanel({
  ids: metaboliteAreaIds,
  raw: metaboliteAreaRaw,
  rawErr: metaboliteAreaRawErr,
  corrected: metaboliteAreaCorrected,
  correctedErr: metaboliteAreaCorrectedErr,
  max: 1.5e10,
  ticks: [0, 5e9, 1e10, 1.5e10],
  tickLabels: ['0.0E00', '5.0E09', '1.0E10', '1.5E10'],
  y0: 892,
  yTop: 701,
  axisX: 660,
  xEnd: 1007.5,
  bands: [[667.5, 825], [836, 993]],
  bandTop: 646,
  groups: [[672, 818.5], [840.5, 986.5]],
  captions: ['raw values', 'corrected for dilution'],
  captionX: [744.5, 913.5],
  captionY: 672.5,
  captionSize: 15.2,
  captionFamily: "'Liberation Sans', sans-serif",
  labelDx: [11, 15, 16],
  labelY: [917, 918, 915],
  title: 'Sum peak areas metabolite features',
  titleX: 555,
  titleY: 786.5,
});

// ---- e) and f) ----
function piePanel(values, colors, cx, cy, r) {
  const arc = d3.arc().innerRadius(0).outerRadius(r);
  const arcs = d3.pie().sort(null)(values);
  svg.append('g').attr('transform', `translate(${cx},${cy})`)
    .selectAll('path').data(arcs).join('path')
    .attr('d', arc)
    .attr('fill', (d, i) => colors[i]);
}

piePanel(lipidShareMtbe, lipidSliceColors, 212.5, 1282, 120);
piePanel(lipidShareButanol, lipidSliceColors, 212, 1631.5, 120);
piePanel(metaboliteShareMaw, metaboliteSliceColors, 770.5, 1284, 121);
piePanel(metaboliteShareButanol, metaboliteSliceColors, 770.5, 1632, 121);

const centerFill = '#ececec';
label(svg, 'MTBE_{or}', 217, 1295, 27.5, { anchor: 'middle', fill: centerFill });
label(svg, '60% n\u2212butanol', 213.5, 1646, 28.6, { anchor: 'middle', fill: centerFill });
label(svg, 'MAW', 771.5, 1294, 29.5, { anchor: 'middle', fill: '#fff', family: "'Liberation Sans', sans-serif", weight: 700 });
label(svg, '60% n-butanol', 774, 1647, 27.8, { anchor: 'middle', fill: '#fff', family: "'Liberation Sans', sans-serif", weight: 700 });

const calloutSize = 24.7;
label(svg, 'LysoPC', 242.5, 1130, calloutSize, { anchor: 'middle' });
leader(svg, [242.7, 1136], [225.7, 1169]);
label(svg, 'PC', 377.5, 1248, calloutSize, { anchor: 'middle' });
leader(svg, [359.3, 1245], [308.3, 1268.5]);
label(svg, 'TG', 62, 1332, calloutSize, { anchor: 'middle' });
leader(svg, [81.7, 1319], [114, 1304]);
label(svg, 'SM', 328.5, 1396.5, calloutSize, { anchor: 'middle' });
leader(svg, [305, 1386], [273.3, 1373.5]);

label(svg, 'LysoPC', 239, 1482, calloutSize, { anchor: 'middle' });
leader(svg, [239.3, 1488], [225.7, 1518]);
label(svg, 'PC', 372.5, 1584, calloutSize, { anchor: 'middle' });
leader(svg, [353.3, 1582], [308.3, 1602]);
label(svg, 'TG', 58, 1692.5, calloutSize, { anchor: 'middle' });
leader(svg, [76.7, 1679.5], [114, 1662]);
label(svg, 'SM', 311.5, 1755, calloutSize, { anchor: 'middle' });
leader(svg, [291.7, 1745], [262.3, 1729.5]);

function stacked(lines, x, y, step) {
  lines.forEach((line, i) => label(svg, line, x, y + (i * step), calloutSize, { anchor: 'middle' }));
}

stacked(['Quartenary', 'ammonium', 'salts'], 682, 1119, 23);
leader(svg, [716.7, 1155], [731.4, 1182.3]);
stacked(['Amino acids', 'and analogues'], 954, 1168, 24);
leader(svg, [867, 1191.7], [827.3, 1212.7]);
label(svg, 'Fatty acyls', 918, 1319.5, calloutSize);
leader(svg, [911.8, 1310.7], [872.2, 1304]);
stacked(['Hydroxy acids', 'and derivatives'], 963, 1380, 25);
leader(svg, [879.2, 1381], [848.6, 1358.3]);
stacked(['Purines and purine', 'derivatives'], 541, 1340, 23.5);
leader(svg, [636.3, 1354], [690.2, 1343.3]);

stacked(['Quartenary', 'ammonium', 'salts'], 686, 1465, 23);
leader(svg, [718, 1502.7], [732.2, 1530]);
stacked(['Amino acids', 'and analogues'], 957.6, 1513, 23.5);
leader(svg, [871, 1531.7], [831, 1554]);
label(svg, 'Fatty acyls', 914, 1674, calloutSize);
leader(svg, [911, 1665.7], [872, 1660]);
stacked(['Hydroxy acids', 'and derivatives'], 897.6, 1773, 25);
leader(svg, [807.8, 1773], [785.3, 1741.7]);
stacked(['Purines and purine', 'derivatives'], 539.6, 1689, 24);
leader(svg, [627.3, 1703], [681.2, 1692]);

// ---- g), h), i) ----
const gray = '#b3b5b5';
function scatterPanel(cfg) {
  const g = svg.append('g');
  const x = d3.scaleLinear().domain(cfg.xDomain).range(cfg.xRange);
  const y = d3.scaleLinear().domain(cfg.yDomain).range(cfg.yRange);
  g.selectAll(null).data(cfg.others).join('circle')
    .attr('cx', d => x(d[0])).attr('cy', d => y(d[1])).attr('r', cfg.r).attr('fill', gray);
  g.selectAll(null).data(cfg.identified).join('circle')
    .attr('cx', d => x(d[0])).attr('cy', d => y(d[1])).attr('r', cfg.r).attr('fill', blueBar);
  g.append('g')
    .attr('transform', `translate(${cfg.xRange[0]},0)`)
    .call(d3.axisLeft(y).tickValues([15, 20, 25, 30]).tickSize(14).tickSizeOuter(0).tickPadding(cfg.yPad))
    .call(styleAxis, cfg.tickFont);
  g.append('g')
    .attr('transform', `translate(0,${cfg.yRange[0]})`)
    .call(d3.axisBottom(x).tickValues([15, 20, 25, 30]).tickSize(15).tickSizeOuter(0).tickPadding(cfg.xPad))
    .call(styleAxis, cfg.tickFont);
  label(g, cfg.yTitle, cfg.yTitleX, cfg.yTitleY, 20.4, { anchor: 'middle', rotate: -90 });
  label(g, cfg.xTitle, cfg.xTitleX, cfg.xTitleY, 20.2, { anchor: 'middle' });
  g.append('circle').attr('cx', 1231.5).attr('cy', cfg.legendY[0]).attr('r', 5.5).attr('fill', blueBar);
  g.append('circle').attr('cx', 1230.5).attr('cy', cfg.legendY[1]).attr('r', 5.5).attr('fill', gray);
  label(g, cfg.legendName, 1248, cfg.legendY[0] + 7, 19.8);
  label(g, 'Unidentified feature', 1248, cfg.legendY[1] + 8, 19.8);
}

scatterPanel({
  identified: gIdentified,
  others: gUnidentified,
  xDomain: [12.23, 33.86],
  xRange: [1213, 1633],
  yDomain: [12.27, 33.85],
  yRange: [500, 166],
  r: 5.8,
  yPad: 6,
  xPad: 9,
  tickFont: 25,
  yTitle: 'Log_{2}(Peak Area) 60% n-butanol',
  yTitleX: 1147.5,
  yTitleY: 334,
  xTitle: 'Log_{2}(Peak Area) MTBE_{or}',
  xTitleX: 1427,
  xTitleY: 571.5,
  legendName: 'Identified lipid',
  legendY: [152, 180.5],
});

scatterPanel({
  identified: hIdentified,
  others: hUnidentified,
  xDomain: [14.3, 33.8],
  xRange: [1213, 1633],
  yDomain: [14.3, 33.74],
  yRange: [1038, 704],
  r: 5.6,
  yPad: 6,
  xPad: 9,
  tickFont: 25,
  yTitle: 'Log_{2}(Peak Area) 60% n-butanol',
  yTitleX: 1147.5,
  yTitleY: 869,
  xTitle: 'Log_{2}(Peak Area) MTBE_{aq}',
  xTitleX: 1435,
  xTitleY: 1111.5,
  legendName: 'Identified metabolite',
  legendY: [724.7, 753.8],
});

scatterPanel({
  identified: iIdentified,
  others: iUnidentified,
  xDomain: [14.45, 34],
  xRange: [1213, 1633],
  yDomain: [14.3, 33.6],
  yRange: [1625, 1291],
  r: 5.6,
  yPad: 8,
  xPad: 9,
  tickFont: 25,
  yTitle: 'Log_{2}(Peak Area) 60% n-butanol',
  yTitleX: 1142.5,
  yTitleY: 1457,
  xTitle: 'Log_{2}(Peak Area) MAW',
  xTitleX: 1406.5,
  xTitleY: 1697,
  legendName: 'Identified metabolite',
  legendY: [1294, 1322.6],
});

// ---- icons and panel letters ----
lipidIcon(450, 58);
lipidIcon(450, 606.7);
lipidIcon(366, 1072);
lipidIcon(1499.7, 132.6);
moleculeIcon(959.3, 66);
moleculeIcon(959.3, 584.3);
moleculeIcon(889.4, 1066);
moleculeIcon(1475.9, 667.3);
moleculeIcon(1475.9, 1248.3);

const panelLetters = ['a)', 'b)', 'c)', 'd)', 'e)', 'f)', 'g)', 'h)', 'i)'];
const letterX = [0, 532, 2, 532, 0, 541, 1109, 1118, 1113];
const letterY = [40, 40, 587, 588, 1063, 1069, 94, 692, 1248];
panelLetters.forEach((name, i) => label(svg, name, letterX[i], letterY[i], 52));
</script>
</body>
</html>
